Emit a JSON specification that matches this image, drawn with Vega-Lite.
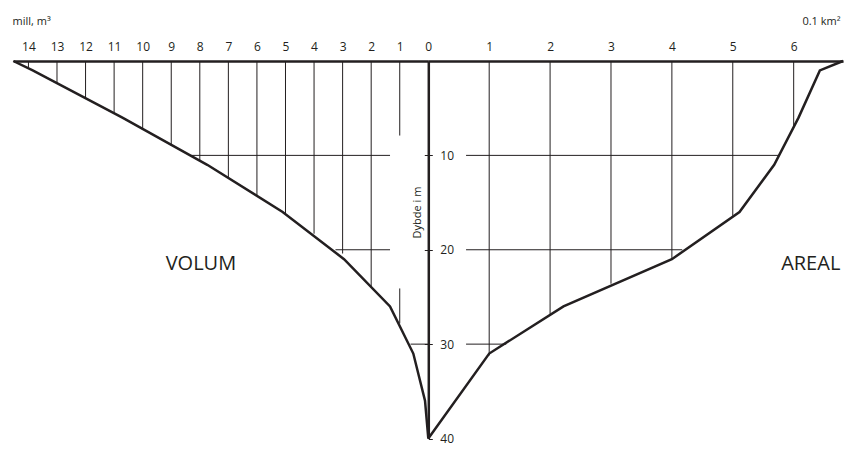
{
  "$schema": "https://vega.github.io/schema/vega-lite/v6.json",
  "width": 845,
  "height": 449,
  "padding": 0,
  "background": "white",
  "config": {
    "view": {"stroke": null},
    "font": "Open Sans",
    "axis": {"labelFont": "Open Sans", "titleFont": "Open Sans", "labelColor": "#231f20", "titleColor": "#231f20", "titleFontWeight": "normal", "grid": false}
  },
  "datasets": {
    "volum": [
      {"depth": 0, "volume": 14.53},
      {"depth": 1, "volume": 13.85},
      {"depth": 6, "volume": 10.71},
      {"depth": 11, "volume": 7.74},
      {"depth": 16, "volume": 5.1},
      {"depth": 21, "volume": 2.95},
      {"depth": 26, "volume": 1.34},
      {"depth": 31, "volume": 0.525},
      {"depth": 36, "volume": 0.115},
      {"depth": 40, "volume": 0}
    ],
    "vol_v": [
      {"v": 14, "d1": 0, "d2": 0.65},
      {"v": 13, "d1": 0, "d2": 2.3},
      {"v": 12, "d1": 0, "d2": 4.0},
      {"v": 11, "d1": 0, "d2": 5.5},
      {"v": 10, "d1": 0, "d2": 7.25},
      {"v": 9, "d1": 0, "d2": 9.0},
      {"v": 8, "d1": 0, "d2": 10.5},
      {"v": 7, "d1": 0, "d2": 12.4},
      {"v": 6, "d1": 0, "d2": 14.3},
      {"v": 5, "d1": 0, "d2": 16.2},
      {"v": 4, "d1": 0, "d2": 18.3},
      {"v": 3, "d1": 0, "d2": 20.4},
      {"v": 2, "d1": 0, "d2": 23.9},
      {"v": 1, "d1": 0, "d2": 7.9},
      {"v": 1, "d1": 24.1, "d2": 27.8}
    ],
    "vol_h": [
      {"d": 10, "v1": 8.3, "v2": 1.34},
      {"d": 20, "v1": 3.25, "v2": 1.34},
      {"d": 30, "v1": 0.62, "v2": 0}
    ],
    "areal": [
      {"depth": 0, "area": 6.81},
      {"depth": 1, "area": 6.43},
      {"depth": 6, "area": 6.08},
      {"depth": 11, "area": 5.68},
      {"depth": 16, "area": 5.11},
      {"depth": 21, "area": 4.0},
      {"depth": 26, "area": 2.22},
      {"depth": 31, "area": 1.0},
      {"depth": 40, "area": 0}
    ],
    "are_v": [
      {"a": 1, "d1": 0, "d2": 31.2},
      {"a": 2, "d1": 0, "d2": 26.8},
      {"a": 3, "d1": 0, "d2": 23.6},
      {"a": 4, "d1": 0, "d2": 20.9},
      {"a": 5, "d1": 0, "d2": 16.4},
      {"a": 6, "d1": 0, "d2": 7.0}
    ],
    "are_h": [
      {"d": 10, "a1": 0.62, "a2": 5.76},
      {"d": 20, "a1": 0.62, "a2": 4.17},
      {"d": 30, "a1": 0.62, "a2": 1.28}
    ],
    "vol_label": [{"name": "VOLUM", "volume": 7.96, "depth": 21.55}],
    "are_label": [{"name": "AREAL", "area": 6.28, "depth": 21.55}]
  },
  "layer": [
    {
      "layer": [
        {
          "data": {"name": "volum"},
          "mark": {"type": "line", "color": "#231f20", "strokeWidth": 2.5},
          "encoding": {
            "x": {
              "field": "volume", "type": "quantitative",
              "scale": {"domain": [0, 14.53], "range": [428.3, 13.3], "nice": false, "zero": false},
              "axis": {
                "orient": "top", "offset": -61, "values": [0, 1, 2, 3, 4, 5, 6, 7, 8, 9, 10, 11, 12, 13, 14], "format": "d",
                "ticks": false, "labelPadding": 8, "labelFontSize": 12, "labelFlush": false, "labelOverlap": false,
                "domain": true, "domainColor": "#231f20", "domainWidth": 2.5,
                "title": "mill, m³", "titleFontSize": 11, "titleX": 12, "titleY": -37, "titleAlign": "left", "titleBaseline": "alphabetic", "titleAngle": 0
              }
            },
            "y": {
              "field": "depth", "type": "quantitative",
              "scale": {"domain": [0, 40], "range": [61, 438.5], "nice": false, "zero": false},
              "axis": {
                "orient": "left", "offset": -428.3, "values": [10, 20, 30], "labels": false,
                "ticks": true, "tickSize": 4, "tickColor": "#231f20", "tickWidth": 1,
                "domain": false,
                "title": "Dybde i m", "titleFontSize": 11, "titleAngle": -90, "titleX": -8, "titleY": 212,
                "titleAlign": "center", "titleBaseline": "alphabetic"
              }
            },
            "order": {"field": "depth", "type": "quantitative"}
          }
        },
        {
          "data": {"name": "vol_v"},
          "mark": {"type": "rule", "color": "#231f20", "strokeWidth": 1},
          "encoding": {
            "x": {"field": "v", "type": "quantitative", "scale": {"domain": [0, 14.53], "range": [428.3, 13.3], "nice": false, "zero": false}},
            "y": {"field": "d1", "type": "quantitative", "scale": {"domain": [0, 40], "range": [61, 438.5], "nice": false, "zero": false}},
            "y2": {"field": "d2"}
          }
        },
        {
          "data": {"name": "vol_h"},
          "mark": {"type": "rule", "color": "#231f20", "strokeWidth": 1},
          "encoding": {
            "x": {"field": "v1", "type": "quantitative", "scale": {"domain": [0, 14.53], "range": [428.3, 13.3], "nice": false, "zero": false}},
            "x2": {"field": "v2"},
            "y": {"field": "d", "type": "quantitative", "scale": {"domain": [0, 40], "range": [61, 438.5], "nice": false, "zero": false}}
          }
        },
        {
          "data": {"name": "vol_label"},
          "mark": {"type": "text", "font": "Open Sans", "fontSize": 20, "color": "#231f20", "align": "center", "baseline": "middle"},
          "encoding": {
            "x": {"field": "volume", "type": "quantitative", "scale": {"domain": [0, 14.53], "range": [428.3, 13.3], "nice": false, "zero": false}},
            "y": {"field": "depth", "type": "quantitative", "scale": {"domain": [0, 40], "range": [61, 438.5], "nice": false, "zero": false}},
            "text": {"field": "name"}
          }
        }
      ]
    },
    {
      "layer": [
        {
          "data": {"name": "areal"},
          "mark": {"type": "line", "color": "#231f20", "strokeWidth": 2.5},
          "encoding": {
            "x": {
              "field": "area", "type": "quantitative",
              "scale": {"domain": [0, 6.81], "range": [428.3, 843], "nice": false, "zero": false},
              "axis": {
                "orient": "top", "offset": -61, "values": [1, 2, 3, 4, 5, 6], "format": "d",
                "ticks": false, "labelPadding": 8, "labelFontSize": 12, "labelFlush": false, "labelOverlap": false,
                "domain": true, "domainColor": "#231f20", "domainWidth": 2.5,
                "title": "0.1 km²", "titleFontSize": 11, "titleX": 840, "titleY": -37, "titleAlign": "right", "titleBaseline": "alphabetic", "titleAngle": 0
              }
            },
            "y": {
              "field": "depth", "type": "quantitative",
              "scale": {"domain": [0, 40], "range": [61, 438.5], "nice": false, "zero": false},
              "axis": {
                "orient": "right", "offset": -416.7, "values": [10, 20, 30, 40], "format": "d",
                "ticks": true, "tickSize": 4, "tickColor": "#231f20", "tickWidth": 1,
                "labelPadding": 7.5, "labelFontSize": 12,
                "domain": true, "domainColor": "#231f20", "domainWidth": 2.5,
                "title": null
              }
            },
            "order": {"field": "depth", "type": "quantitative"}
          }
        },
        {
          "data": {"name": "are_v"},
          "mark": {"type": "rule", "color": "#231f20", "strokeWidth": 1},
          "encoding": {
            "x": {"field": "a", "type": "quantitative", "scale": {"domain": [0, 6.81], "range": [428.3, 843], "nice": false, "zero": false}},
            "y": {"field": "d1", "type": "quantitative", "scale": {"domain": [0, 40], "range": [61, 438.5], "nice": false, "zero": false}},
            "y2": {"field": "d2"}
          }
        },
        {
          "data": {"name": "are_h"},
          "mark": {"type": "rule", "color": "#231f20", "strokeWidth": 1},
          "encoding": {
            "x": {"field": "a1", "type": "quantitative", "scale": {"domain": [0, 6.81], "range": [428.3, 843], "nice": false, "zero": false}},
            "x2": {"field": "a2"},
            "y": {"field": "d", "type": "quantitative", "scale": {"domain": [0, 40], "range": [61, 438.5], "nice": false, "zero": false}}
          }
        },
        {
          "data": {"name": "are_label"},
          "mark": {"type": "text", "font": "Open Sans", "fontSize": 20, "color": "#231f20", "align": "center", "baseline": "middle"},
          "encoding": {
            "x": {"field": "area", "type": "quantitative", "scale": {"domain": [0, 6.81], "range": [428.3, 843], "nice": false, "zero": false}},
            "y": {"field": "depth", "type": "quantitative", "scale": {"domain": [0, 40], "range": [61, 438.5], "nice": false, "zero": false}},
            "text": {"field": "name"}
          }
        }
      ]
    }
  ],
  "resolve": {"scale": {"x": "independent", "y": "independent"}}
}
